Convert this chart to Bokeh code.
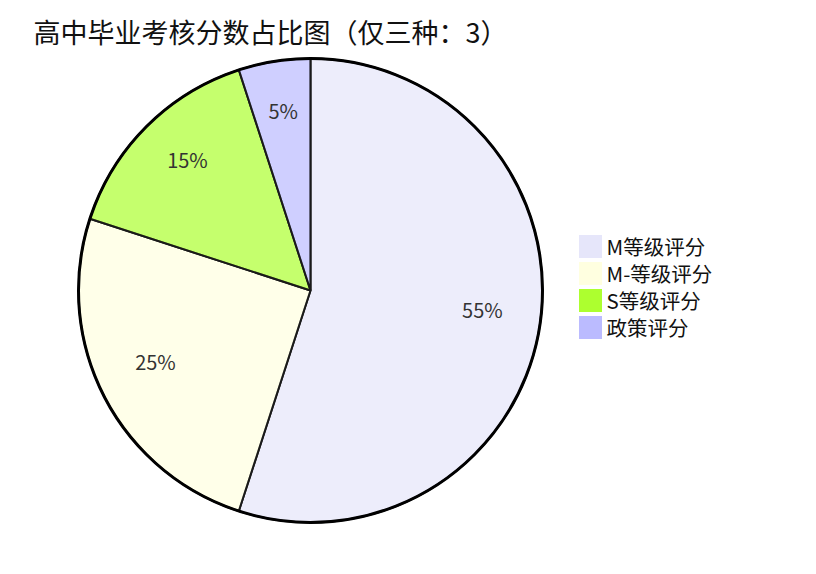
import math
from bokeh.plotting import figure
from bokeh.models import Range1d, Label, ColumnDataSource
from bokeh.core.properties import value
from bokeh.embed import file_html
from bokeh.resources import INLINE

title_text = "高中毕业考核分数占比图（仅三种：3）"
categories = ["M等级评分", "M-等级评分", "S等级评分", "政策评分"]
shares = [55, 25, 15, 5]
colors = ["#e6e6fa", "#ffffe0", "#adff2f", "#bbbbff"]

W, H = 800, 558
cx, cy, R = 310, 268, 232

total = sum(shares)
starts, ends, lx, ly, texts = [], [], [], [], []
cum = 0
for v in shares:
    a0 = math.pi / 2 - 2 * math.pi * cum / total
    cum += v
    a1 = math.pi / 2 - 2 * math.pi * cum / total
    starts.append(a0)
    ends.append(a1)
    mid = (a0 + a1) / 2
    lx.append(cx + 0.75 * R * math.cos(mid))
    ly.append(cy + 0.75 * R * math.sin(mid))
    texts.append(f"{round(100 * v / total)}%")

src = ColumnDataSource(dict(start=starts, end=ends, color=colors, lx=lx, ly=ly, t=texts,
                            cat=categories))

p = figure(width=W, height=H, x_range=Range1d(0, W), y_range=Range1d(0, H),
           output_backend="svg", toolbar_location=None, min_border=0)
p.axis.visible = False
p.grid.visible = False
p.outline_line_color = None

p.wedge(x=cx, y=cy, radius=R, start_angle="start", end_angle="end", direction="clock",
        fill_color="color", fill_alpha=0.7, line_color="#1a1a1a", line_width=2, source=src)
p.circle(x=[cx], y=[cy], radius=R, fill_color=None, line_color="black", line_width=3)

p.text(x="lx", y="ly", text="t", source=src, text_align="center", text_baseline="middle",
       y_offset=-8, text_color="#333333", text_font_size="20px",
       text_font=value("Noto Sans CJK SC"))

# legend
leg_y = [312 - 27 * i for i in range(len(categories))]
lsrc = ColumnDataSource(dict(y=leg_y, color=colors, cat=categories))
p.rect(x=590, y="y", width=23, height=23, fill_color="color", line_color=None, source=lsrc)
p.text(x=606, y="y", text="cat", source=lsrc, text_align="left", text_baseline="middle",
       y_offset=-1, text_color="#111111", text_font_size="20.5px",
       text_font=value("Noto Sans CJK SC"))

p.add_layout(Label(x=33, y=527, text=title_text, text_font_size="27px", text_baseline="middle",
                   text_color="#111111", text_font="Noto Sans CJK SC"))

open("out.html", "w").write(file_html(p, INLINE))
